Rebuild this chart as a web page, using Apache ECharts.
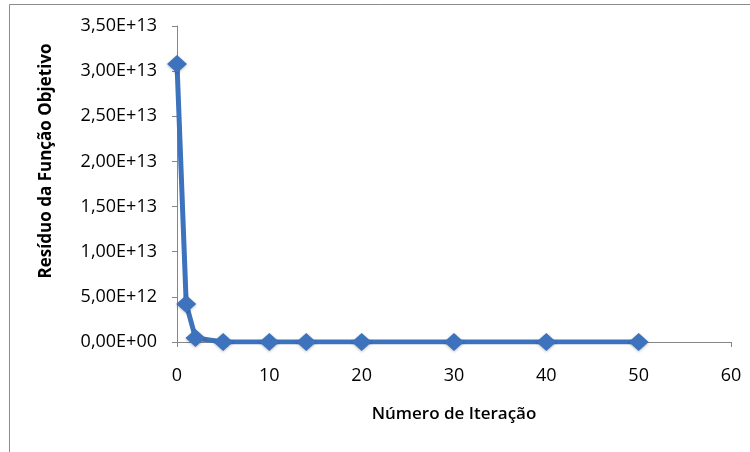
<!DOCTYPE html>
<html>
<head>
<meta charset="utf-8">
<script src="https://cdn.jsdelivr.net/npm/echarts@6/dist/echarts.min.js"></script>
<style>
html,body{margin:0;padding:0;background:#fff;}
#c{width:750px;height:452px;}
</style>
</head>
<body>
<div id="c"></div>
<script>
const iterations = [0, 1, 2, 5, 10, 14, 20, 30, 40, 50];
const residuals = [3.08e13, 4.2e12, 4.5e11, 0, 0, 0, 0, 0, 0, 0];
const xTitle = 'Número de Iteração';
const yTitle = 'Resíduo da Função Objetivo';

function sci(v) {
  if (v === 0) return '0,00E+00';
  let e = Math.floor(Math.log10(Math.abs(v)));
  let m = v / Math.pow(10, e);
  if (Math.abs(m) >= 9.995) { m /= 10; e += 1; }
  const es = (e < 0 ? '-' : '+') + String(Math.abs(e)).padStart(2, '0');
  return m.toFixed(2).replace('.', ',') + 'E' + es;
}

const chart = echarts.init(document.getElementById('c'), null, {renderer: 'canvas'});
const axisColor = '#868686';
const font = 'Open Sans';
chart.setOption({
  animation: false,
  backgroundColor: '#fff',
  grid: {left: 177, right: 19, top: 26, bottom: 110},
  xAxis: {
    type: 'value', min: 0, max: 60, interval: 10,
    name: xTitle, nameLocation: 'middle', nameGap: 64,
    nameTextStyle: {fontFamily: font, fontSize: 17, fontWeight: 600, color: '#000'},
    axisLine: {show: true, onZero: false, lineStyle: {color: axisColor, width: 1}},
    axisTick: {show: true, inside: false, length: 5, lineStyle: {color: axisColor}},
    axisLabel: {fontFamily: font, fontSize: 18, color: '#000', margin: 25},
    splitLine: {show: false}
  },
  yAxis: {
    type: 'value', min: 0, max: 3.5e13, interval: 5e12,
    axisLine: {show: true, lineStyle: {color: axisColor, width: 1}},
    axisTick: {show: true, inside: false, length: 5, lineStyle: {color: axisColor}},
    axisLabel: {fontFamily: font, fontSize: 18, color: '#000', margin: 20, formatter: sci},
    splitLine: {show: false}
  },
  graphic: [
    {type: 'rect', shape: {x: 9.5, y: 4.5, width: 760, height: 470},
     style: {fill: 'none', stroke: '#8c8c8c', lineWidth: 1}, silent: true, z: -1},
    {type: 'text', x: 46, y: 161, rotation: Math.PI / 2,
     style: {text: yTitle, font: 'bold 17px "' + font + '"', fill: '#000',
             textAlign: 'center', textVerticalAlign: 'middle'}}
  ],
  series: [{
    type: 'line',
    data: iterations.map((x, i) => [x, residuals[i]]),
    symbol: 'diamond', symbolSize: [20, 18],
    lineStyle: {color: '#3D72BD', width: 5},
    itemStyle: {color: '#3D72BD', shadowColor: 'rgba(0,0,0,0.25)', shadowBlur: 3, shadowOffsetY: 1},
    showSymbol: true
  }]
});
</script>
</body>
</html>
